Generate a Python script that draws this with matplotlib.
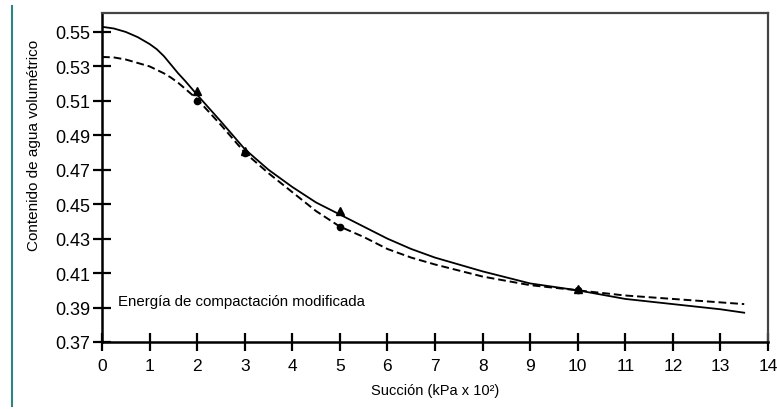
import matplotlib
matplotlib.use("Agg")
import matplotlib.pyplot as plt
from matplotlib.lines import Line2D

# curve (suction in kPa x 10^2, volumetric water content)
x_curve = [0, 0.25, 0.5, 0.75, 1.0, 1.15, 1.3, 1.45, 1.6, 1.75, 2.0, 2.5, 3.0,
           3.5, 4.0, 4.5, 5.0, 5.5, 6.0, 6.5, 7.0, 8.0, 9.0, 10.0, 11.0, 12.0,
           13.0, 13.5]
y_solid = [0.553, 0.552, 0.550, 0.547, 0.543, 0.540, 0.536, 0.531, 0.526,
           0.5215, 0.5135, 0.498, 0.482, 0.470, 0.460, 0.451, 0.444, 0.437,
           0.430, 0.424, 0.419, 0.411, 0.404, 0.400, 0.395, 0.392, 0.389,
           0.387]
y_dashed = [0.5355, 0.5352, 0.534, 0.532, 0.530, 0.528, 0.526, 0.5235, 0.5205,
            0.517, 0.511, 0.496, 0.480, 0.468, 0.457, 0.446, 0.437, 0.431,
            0.424, 0.419, 0.415, 0.408, 0.403, 0.400, 0.397, 0.395, 0.393,
            0.392]

# measured points
x_meas = [2, 3, 5, 10]
y_tri = [0.516, 0.481, 0.446, 0.401]
y_dot = [0.510, 0.480, 0.437, 0.400]

xticks = list(range(0, 15))
yticks = [0.37, 0.39, 0.41, 0.43, 0.45, 0.47, 0.49, 0.51, 0.53, 0.55]

font = ['Liberation Sans', 'DejaVu Sans']

fig = plt.figure(figsize=(7.77, 4.10), dpi=100)
ax = fig.add_axes([102/777, 67/410, 666/777, 329/410])

ax.plot(x_curve, y_solid, color='black', lw=1.3, ls='-')
ax.plot(x_curve, y_dashed, color='black', lw=1.4, ls=(0, (4, 2)))
ax.plot(x_meas, y_tri, ls='none', marker='^', color='black', ms=6)
ax.plot(x_meas, y_dot, ls='none', marker='o', color='black', ms=4.5)

ax.set_xlim(0, 14)
ax.set_ylim(0.37, 0.561)
ax.set_xticks(xticks)
ax.set_yticks(yticks)
ax.set_xticklabels([str(t) for t in xticks], family=font, fontsize=12.5)
ax.set_yticklabels(['%.2f' % t for t in yticks], family=font, fontsize=13)
ax.tick_params(axis='both', direction='inout', length=13, width=1.6, color='black')
ax.tick_params(axis='x', pad=5)
ax.tick_params(axis='y', pad=2)

for side in ['left', 'bottom']:
    ax.spines[side].set_linewidth(1.8)
for side in ['top', 'right']:
    ax.spines[side].set_linewidth(1.6)
    ax.spines[side].set_color('#444444')

ax.set_xlabel('Succión (kPa x 10²)', family=font, fontsize=10.5, labelpad=7)
ax.set_ylabel('Contenido de agua volumétrico', family=font, fontsize=11)
ax.yaxis.set_label_coords(-0.092, 0.6)

ax.text(0.34, 0.3938, 'Energía de compactación modificada', family=font,
        fontsize=10.8, ha='left', va='center')

# thin teal border on the left of the screenshot
fig.add_artist(Line2D([12/777, 12/777], [3/410, 403/410], color='#2a8585', lw=1.5))

fig.savefig('out.png', dpi=100)
